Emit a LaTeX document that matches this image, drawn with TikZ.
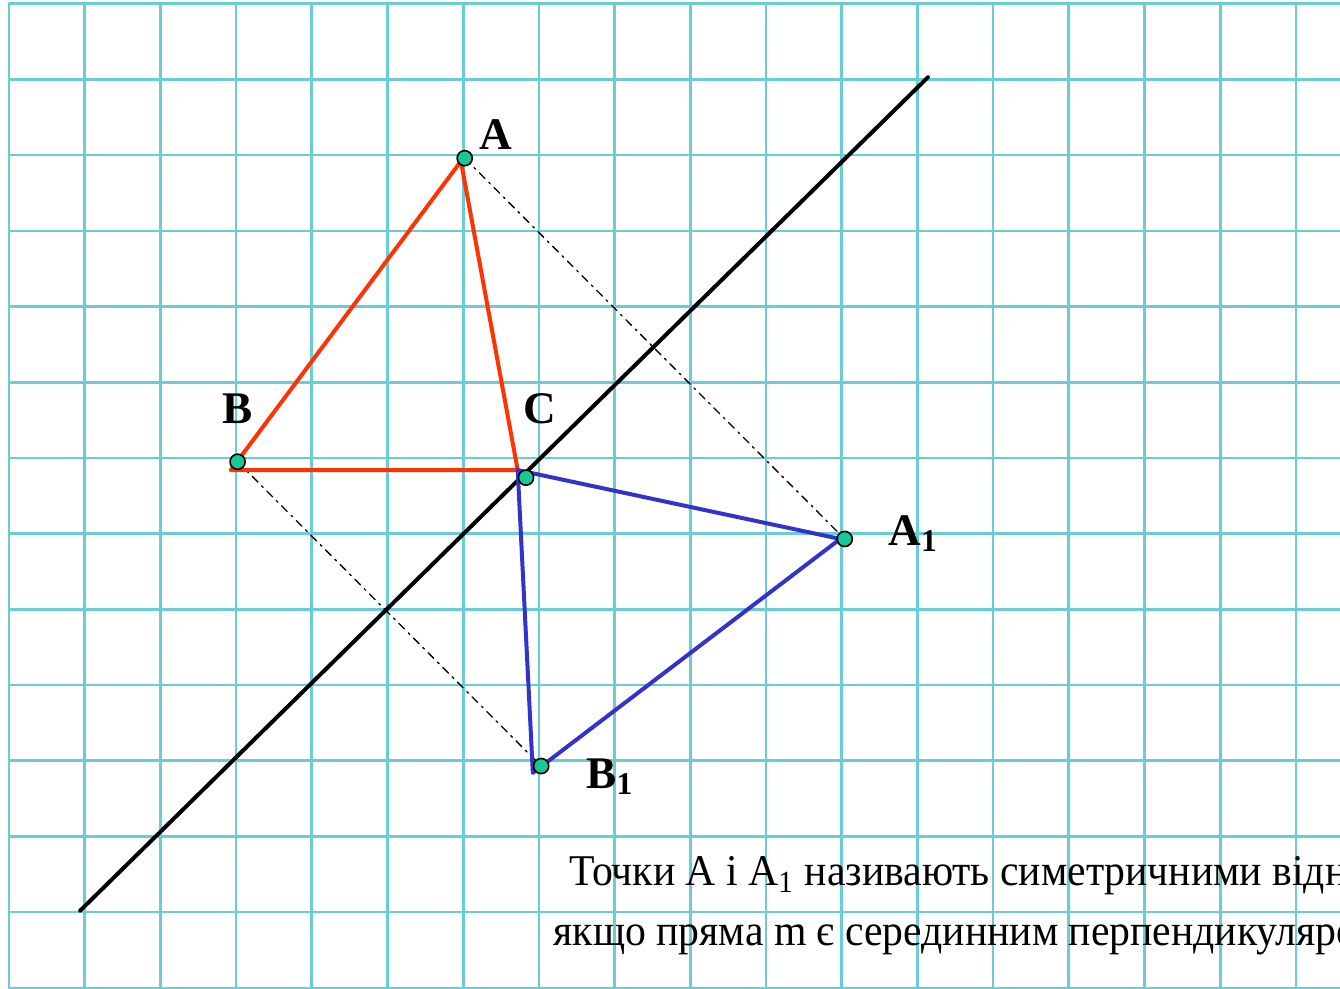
\documentclass[tikz,border=0pt]{standalone}
\usepackage{fontspec}
\setmainfont{Liberation Serif}
\newfontfamily\narrowfont[FakeStretch=0.95]{Liberation Serif}
\definecolor{gridc}{RGB}{105,205,212}
\definecolor{redc}{RGB}{255,51,0}
\definecolor{bluec}{RGB}{51,51,204}
\definecolor{dotc}{RGB}{25,200,150}
\begin{document}
\begin{tikzpicture}[line join=round,line cap=round,
	dot/.style={fill=dotc,draw=black,line width=0.6pt},
	side/.style={line width=1.5pt},
	lbl/.style={anchor=base west,inner sep=0pt,font=\fontsize{17}{20}\selectfont\bfseries},
	txt/.style={anchor=base west,inner sep=0pt,font=\fontsize{16.5}{20}\selectfont\narrowfont},
	dashdot/.style={line width=0.5pt,dash pattern=on 3pt off 2pt on 0.8pt off 2pt}]
		\useasboundingbox (-0.119,-0.013) rectangle (17.583,13.05);
		\clip (-0.119,-0.013) rectangle (17.583,13.05);
		\draw[gridc,line width=1pt] (0,0) grid (17.583,13);
		% line m
		\coordinate (m1) at (0.94,1.02);
		\coordinate (m2) at (12.14,12.03);
		\draw[line width=1.5pt] (m1) -- (m2);
		% points
		\coordinate (pA) at (6.02,10.96);
		\coordinate (pB) at (3.02,6.95);
		\coordinate (pC) at (6.83,6.74);
		\coordinate (pA1) at (11.04,5.93);
		\coordinate (pB1) at (7.03,2.93);
		% vertices of the triangles
		\coordinate (A) at (5.97,10.92);
		\coordinate (B) at (2.93,6.84);
		\coordinate (C) at (6.72,6.84);
		\coordinate (A1) at (10.98,5.93);
		\coordinate (B1) at (6.92,2.84);
		\draw[dashdot] (pA) -- (pA1) (pB) -- (pB1);
		\draw[side,redc] (A) -- (B) -- (C) -- cycle;
		\draw[side,bluec] (A1) -- (B1) -- (C) -- cycle;
		\foreach \p in {pA,pB,pC,pA1,pB1} \draw[dot] (\p) circle (0.1);
		\node[lbl] (lA) at (6.21,11.07) {A};
		\node[lbl] (lB) at (2.81,7.45) {B};
		\node[lbl] (lC) at (6.79,7.45) {C};
		\node[lbl] (lA1) at (11.61,5.85) {A\textsubscript{1}};
		\node[lbl] (lB1) at (7.62,2.64) {B\textsubscript{1}};
		\node[txt] (t1) at (7.4,1.352) {Точки A і A\textsubscript{1} називають симетричними відносно};
		\node[txt] (t2) at (7.19,0.555) {якщо пряма m є серединним перпендикуляром};
	\end{tikzpicture}
\end{document}
